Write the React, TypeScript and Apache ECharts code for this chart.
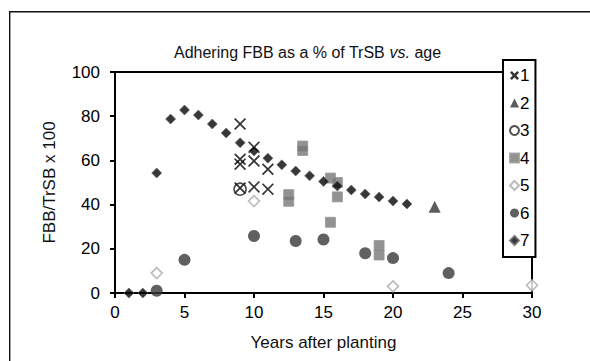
import React, { useEffect, useRef } from 'react';
import * as echarts from 'echarts';

const seriesNames = ['1', '2', '3', '4', '5', '6', '7'];
const s1: number[][] = [[9, 76.5], [10, 66], [9, 60.5], [9, 58.3], [10, 59.7], [11, 56], [9, 47.5], [10, 48], [11, 47]];
const s2: number[][] = [[23, 39]];
const s3: number[][] = [[9, 47]];
const s4: number[][] = [[13.5, 66.5], [13.5, 64.5], [12.5, 44.5], [12.5, 41.5], [15.5, 52], [16, 50], [16, 43.5], [15.5, 32], [19, 21.5], [19, 17.2]];
const s5: number[][] = [[3, 9], [10, 41.6], [20, 3], [30, 3.5]];
const s6: number[][] = [[3, 1], [5, 15], [10, 25.8], [13, 23.5], [15, 24.2], [18, 18], [20, 15.8], [24, 9]];
const s7: number[][] = [[1, 0], [2, 0], [3, 54.3], [4, 78.7], [5, 82.8], [6, 80.5], [7, 76.5], [8, 72.4], [9, 68], [10, 64.3], [11, 61], [12, 58], [13, 55.2], [14, 53], [15, 50.5], [16, 48.4], [17, 46.6], [18, 44.8], [19, 43.4], [20, 41.6], [21, 40.3]];

const FONT = 'Liberation Sans, Arial, sans-serif';
const CROSS = 'path://M0,1 L1,0 L5,4 L9,0 L10,1 L6,5 L10,9 L9,10 L5,6 L1,10 L0,9 L4,5 Z';
const BOLD_CROSS = 'path://M0,2 L2,0 L5,3 L8,0 L10,2 L7,5 L10,8 L8,10 L5,7 L2,10 L0,8 L3,5 Z';

export default function App() {
  const ref = useRef<HTMLDivElement>(null);
  useEffect(() => {
    if (!ref.current) return;
    const chart = echarts.init(ref.current, undefined, { renderer: 'svg' });
    const datasets = [s1, s2, s3, s4, s5, s6, s7];
    const styles: any[] = [
      { symbol: CROSS, symbolSize: 12, itemStyle: { color: '#000' } },
      { symbol: 'triangle', symbolSize: 12, itemStyle: { color: '#333' } },
      { symbol: 'circle', symbolSize: 12, itemStyle: { color: 'rgba(0,0,0,0)', borderColor: '#222', borderWidth: 1.6 } },
      { symbol: 'rect', symbolSize: 10, itemStyle: { color: '#777', borderColor: '#999', borderWidth: 1 } },
      { symbol: 'diamond', symbolSize: 11, itemStyle: { color: '#fff', borderColor: '#aaa', borderWidth: 1.6 } },
      { symbol: 'circle', symbolSize: 12, itemStyle: { color: '#383838' } },
      { symbol: 'diamond', symbolSize: 10, itemStyle: { color: '#050505', borderColor: '#666', borderWidth: 0.8 } },
    ];
    const legendData = seriesNames.map((n, i) =>
      i === 0
        ? { name: n, icon: BOLD_CROSS, itemStyle: { color: '#000' } }
        : i === 2
        ? { name: n, itemStyle: { color: 'rgba(0,0,0,0)', borderColor: '#222', borderWidth: 2 } }
        : { name: n }
    );
    chart.setOption({
      animation: false,
      backgroundColor: '#fff',
      title: {
        text: '{a|Adhering FBB as a % of TrSB }{b|vs.}{a| age}',
        left: 169,
        top: 39,
        textStyle: {
          rich: {
            a: { fontFamily: FONT, fontSize: 16, fontWeight: 'normal', color: '#111' },
            b: { fontFamily: FONT, fontSize: 16, fontWeight: 'normal', color: '#111', fontStyle: 'italic' },
          },
        },
      },
      graphic: [
        { type: 'rect', shape: { x: 9, y: 11, width: 581, height: 1.4 }, style: { fill: '#111' } },
        { type: 'rect', shape: { x: 9, y: 11, width: 1.4, height: 350 }, style: { fill: '#111' } },
      ],
      grid: { left: 115, right: 58, top: 72, bottom: 68, show: true, borderColor: '#000', borderWidth: 2, backgroundColor: 'transparent' },
      legend: {
        orient: 'vertical',
        left: 503,
        top: 60,
        data: legendData,
        backgroundColor: '#fff',
        borderColor: '#000',
        borderWidth: 2,
        padding: [7, 6, 8, 6],
        itemWidth: 9,
        itemHeight: 9,
        itemGap: 10.5,
        textStyle: { fontFamily: FONT, fontSize: 17, color: '#000', padding: [0, 0, 0, -4] },
      },
      xAxis: {
        type: 'value',
        min: 0,
        max: 30,
        interval: 5,
        name: 'Years after planting',
        nameLocation: 'middle',
        nameGap: 41,
        nameTextStyle: { fontFamily: FONT, fontSize: 17, color: '#111' },
        axisLine: { lineStyle: { color: '#000', width: 2 } },
        axisTick: { show: true, length: 5, lineStyle: { color: '#000', width: 2 } },
        axisLabel: { fontFamily: FONT, fontSize: 17, color: '#000', margin: 11 },
        splitLine: { show: false },
      },
      yAxis: {
        type: 'value',
        min: 0,
        max: 100,
        interval: 20,
        name: 'FBB/TrSB x 100',
        nameLocation: 'middle',
        nameGap: 57,
        nameTextStyle: { fontFamily: FONT, fontSize: 17, color: '#111' },
        axisLine: { lineStyle: { color: '#000', width: 2 } },
        axisTick: { show: true, length: 5, lineStyle: { color: '#000', width: 2 } },
        axisLabel: { fontFamily: FONT, fontSize: 17, color: '#000', margin: 15 },
        splitLine: { show: false },
      },
      series: datasets.map((d, i) => ({
        name: seriesNames[i],
        type: 'scatter',
        data: d,
        ...styles[i],
      })),
    });
    return () => chart.dispose();
  }, []);
  return <div ref={ref} style={{ position: 'fixed', left: 0, top: 0, width: 590, height: 361 }} />;
}
